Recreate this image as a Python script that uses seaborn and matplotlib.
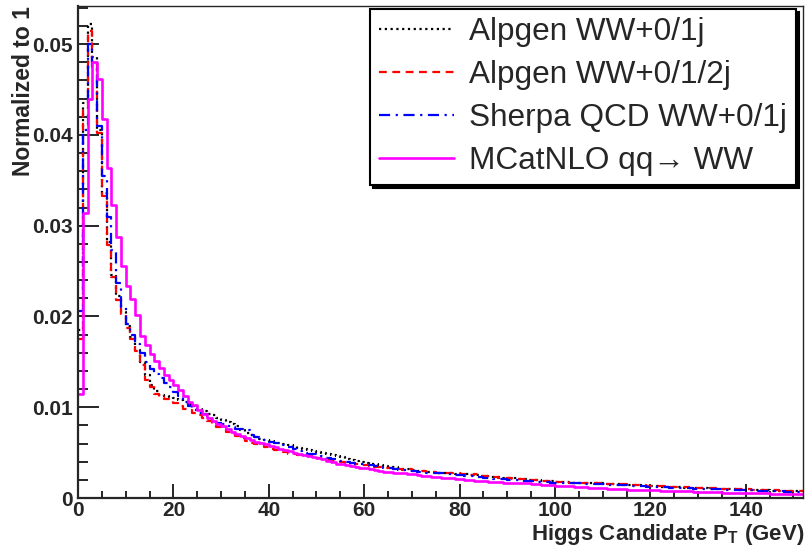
import numpy as np
import pandas as pd
import matplotlib.pyplot as plt
import seaborn as sns
from matplotlib.ticker import MultipleLocator

# 1 GeV bins from 0 to 152 GeV
bin_edges = np.arange(0, 153, 1)
bin_centers = bin_edges[:-1] + 0.5

# normalized bin contents, bins 0..151
alpgen_01j = [
    0.0185, 0.0435, 0.0522, 0.0486, 0.0405, 0.0336, 0.0282, 0.0246, 0.0222, 0.0205,
    0.0190, 0.0177, 0.0163, 0.0150, 0.0135, 0.0125, 0.0118, 0.0114, 0.0112, 0.0111,
    0.0110, 0.0108, 0.0106, 0.0104, 0.0101, 0.0098, 0.0096, 0.0093, 0.0091, 0.0088,
    0.0086, 0.0084, 0.0081, 0.0079, 0.0075, 0.0072, 0.0069, 0.0067, 0.0065, 0.0064,
    0.0063, 0.0062, 0.0061, 0.0060, 0.0058, 0.0057, 0.0055, 0.0054, 0.0053, 0.0052,
    0.0051, 0.0050, 0.0048, 0.0047, 0.0046, 0.0045, 0.0043, 0.0042, 0.0041, 0.0040,
    0.0039, 0.0038, 0.0037, 0.0036, 0.0035, 0.0034, 0.0034, 0.0033, 0.0032, 0.0032,
    0.0031, 0.0030, 0.0030, 0.0029, 0.0029, 0.0028, 0.0028, 0.0027, 0.0027, 0.0026,
    0.0026, 0.0026, 0.0025, 0.0025, 0.0024, 0.0024, 0.0023, 0.0023, 0.0023, 0.0022,
    0.0022, 0.0022, 0.0021, 0.0021, 0.0020, 0.0020, 0.0020, 0.0019, 0.0019, 0.0019,
    0.0018, 0.0018, 0.0018, 0.0017, 0.0017, 0.0017, 0.0016, 0.0016, 0.0016, 0.0016,
    0.0015, 0.0015, 0.0015, 0.0015, 0.0014, 0.0014, 0.0014, 0.0014, 0.0013, 0.0013,
    0.0013, 0.0013, 0.0012, 0.0012, 0.0012, 0.0012, 0.0012, 0.0011, 0.0011, 0.0011,
    0.0011, 0.0011, 0.0010, 0.0010, 0.0010, 0.0010, 0.0010, 0.0010, 0.0009, 0.0009,
    0.0009, 0.0009, 0.0009, 0.0009, 0.0009, 0.0008, 0.0008, 0.0008, 0.0008, 0.0008,
    0.0008, 0.0008,
]

alpgen_012j = [
    0.0175, 0.0430, 0.0515, 0.0480, 0.0402, 0.0333, 0.0279, 0.0243, 0.0218, 0.0203,
    0.0187, 0.0175, 0.0162, 0.0146, 0.0130, 0.0122, 0.0115, 0.0111, 0.0109, 0.0107,
    0.0105, 0.0101, 0.0098, 0.0097, 0.0094, 0.0091, 0.0088, 0.0085, 0.0082, 0.0078,
    0.0076, 0.0073, 0.0071, 0.0068, 0.0066, 0.0063, 0.0061, 0.0060, 0.0059, 0.0056,
    0.0054, 0.0053, 0.0052, 0.0051, 0.0049, 0.0048, 0.0047, 0.0047, 0.0046, 0.0045,
    0.0044, 0.0043, 0.0042, 0.0041, 0.0041, 0.0040, 0.0039, 0.0039, 0.0037, 0.0036,
    0.0036, 0.0035, 0.0034, 0.0034, 0.0033, 0.0033, 0.0032, 0.0032, 0.0031, 0.0032,
    0.0030, 0.0030, 0.0030, 0.0029, 0.0029, 0.0028, 0.0028, 0.0027, 0.0028, 0.0027,
    0.0026, 0.0026, 0.0025, 0.0026, 0.0024, 0.0024, 0.0023, 0.0023, 0.0022, 0.0022,
    0.0022, 0.0021, 0.0021, 0.0021, 0.0020, 0.0020, 0.0020, 0.0019, 0.0019, 0.0019,
    0.0018, 0.0018, 0.0018, 0.0017, 0.0017, 0.0017, 0.0017, 0.0016, 0.0016, 0.0016,
    0.0016, 0.0015, 0.0015, 0.0015, 0.0015, 0.0014, 0.0014, 0.0014, 0.0014, 0.0013,
    0.0013, 0.0013, 0.0013, 0.0012, 0.0012, 0.0012, 0.0012, 0.0012, 0.0011, 0.0011,
    0.0011, 0.0011, 0.0011, 0.0011, 0.0010, 0.0010, 0.0010, 0.0010, 0.0010, 0.0010,
    0.0010, 0.0009, 0.0009, 0.0009, 0.0009, 0.0009, 0.0009, 0.0008, 0.0008, 0.0008,
    0.0008, 0.0008,
]

sherpa_01j = [
    0.0206, 0.0405, 0.0500, 0.0475, 0.0410, 0.0355, 0.0310, 0.0273, 0.0237, 0.0210,
    0.0192, 0.0180, 0.0170, 0.0160, 0.0150, 0.0142, 0.0137, 0.0132, 0.0127, 0.0122,
    0.0117, 0.0112, 0.0106, 0.0101, 0.0097, 0.0094, 0.0092, 0.0090, 0.0086, 0.0083,
    0.0081, 0.0079, 0.0078, 0.0076, 0.0076, 0.0075, 0.0069, 0.0067, 0.0066, 0.0064,
    0.0062, 0.0061, 0.0060, 0.0058, 0.0056, 0.0054, 0.0052, 0.0050, 0.0049, 0.0048,
    0.0047, 0.0046, 0.0044, 0.0043, 0.0042, 0.0041, 0.0040, 0.0039, 0.0038, 0.0037,
    0.0037, 0.0036, 0.0035, 0.0034, 0.0033, 0.0033, 0.0032, 0.0031, 0.0031, 0.0030,
    0.0030, 0.0029, 0.0029, 0.0028, 0.0028, 0.0027, 0.0027, 0.0026, 0.0026, 0.0025,
    0.0025, 0.0024, 0.0024, 0.0023, 0.0023, 0.0022, 0.0022, 0.0021, 0.0021, 0.0021,
    0.0020, 0.0020, 0.0020, 0.0019, 0.0019, 0.0019, 0.0018, 0.0018, 0.0018, 0.0017,
    0.0017, 0.0017, 0.0016, 0.0016, 0.0016, 0.0016, 0.0015, 0.0015, 0.0015, 0.0015,
    0.0015, 0.0014, 0.0014, 0.0014, 0.0014, 0.0013, 0.0013, 0.0013, 0.0013, 0.0012,
    0.0012, 0.0012, 0.0012, 0.0012, 0.0011, 0.0011, 0.0011, 0.0011, 0.0011, 0.0010,
    0.0010, 0.0010, 0.0010, 0.0010, 0.0010, 0.0009, 0.0009, 0.0009, 0.0009, 0.0009,
    0.0009, 0.0009, 0.0008, 0.0008, 0.0008, 0.0008, 0.0008, 0.0008, 0.0007, 0.0007,
    0.0007, 0.0007,
]

mcatnlo_qq = [
    0.0115, 0.0314, 0.0439, 0.0480, 0.0462, 0.0418, 0.0364, 0.0323, 0.0288, 0.0256,
    0.0233, 0.0219, 0.0202, 0.0179, 0.0168, 0.0159, 0.0151, 0.0143, 0.0136, 0.0130,
    0.0125, 0.0119, 0.0112, 0.0106, 0.0102, 0.0097, 0.0093, 0.0088, 0.0085, 0.0082,
    0.0079, 0.0076, 0.0073, 0.0070, 0.0068, 0.0066, 0.0064, 0.0062, 0.0061, 0.0059,
    0.0057, 0.0056, 0.0054, 0.0053, 0.0052, 0.0050, 0.0048, 0.0047, 0.0046, 0.0045,
    0.0044, 0.0043, 0.0041, 0.0040, 0.0038, 0.0037, 0.0036, 0.0035, 0.0034, 0.0033,
    0.0033, 0.0032, 0.0031, 0.0030, 0.0029, 0.0029, 0.0028, 0.0027, 0.0027, 0.0026,
    0.0026, 0.0025, 0.0024, 0.0024, 0.0023, 0.0023, 0.0022, 0.0022, 0.0022, 0.0021,
    0.0021, 0.0020, 0.0020, 0.0019, 0.0019, 0.0019, 0.0018, 0.0018, 0.0018, 0.0017,
    0.0017, 0.0017, 0.0016, 0.0016, 0.0016, 0.0015, 0.0015, 0.0014, 0.0014, 0.0014,
    0.0013, 0.0013, 0.0013, 0.0013, 0.0012, 0.0012, 0.0012, 0.0011, 0.0011, 0.0011,
    0.0011, 0.0010, 0.0010, 0.0010, 0.0010, 0.0009, 0.0009, 0.0009, 0.0009, 0.0009,
    0.00085, 0.00085, 0.00082, 0.0008, 0.0008, 0.00077, 0.00075, 0.00074, 0.00072, 0.0007,
    0.00068, 0.00067, 0.00065, 0.00064, 0.00062, 0.0006, 0.00059, 0.00058, 0.00056, 0.00055,
    0.00054, 0.00053, 0.00052, 0.00051, 0.0005, 0.00049, 0.00048, 0.00047, 0.00046, 0.00046,
    0.00045, 0.00044,
]

sample_labels = ["Alpgen WW+0/1j", "Alpgen WW+0/1/2j", "Sherpa QCD WW+0/1j", "MCatNLO qq\u2192 WW"]
sample_values = [alpgen_01j, alpgen_012j, sherpa_01j, mcatnlo_qq]

# ROOT-like line styles: dotted, dashed, dash-dot, solid
line_colors = ["black", "#ff0000", "#0000ff", "#ff00ff"]
line_styles = [(0, (1.0, 1.6)), (0, (3.5, 2.5)), (0, (5, 2.5, 1, 2.5)), "-"]
line_widths = [1.6, 1.6, 1.6, 1.9]

sns.set_style("ticks")
plt.rcParams["font.family"] = ["Liberation Sans", "DejaVu Sans"]
plt.rcParams["mathtext.fontset"] = "custom"
plt.rcParams["mathtext.rm"] = "Liberation Sans:bold"
plt.rcParams["mathtext.default"] = "rm"

fig = plt.figure(figsize=(8.06, 5.58), dpi=100)
ax = fig.add_axes([78 / 806, 1 - 498 / 558, 725 / 806, 492 / 558])

for vals, lab, col, ls, lw in zip(sample_values, sample_labels, line_colors, line_styles, line_widths):
    hist_df = pd.DataFrame({"pt": bin_centers, "w": vals})
    sns.histplot(data=hist_df, x="pt", weights="w", binwidth=1, binrange=(0, 152),
                 element="step", fill=False,
                 color=col, linestyle=ls, linewidth=lw, label=lab, ax=ax)

ax.set_xlim(0, 152)
ax.set_ylim(0, 0.0542)

ax.xaxis.set_major_locator(MultipleLocator(20))
ax.xaxis.set_minor_locator(MultipleLocator(5))
ax.yaxis.set_minor_locator(MultipleLocator(0.002))
ax.set_yticks([0, 0.01, 0.02, 0.03, 0.04, 0.05])
ax.set_yticklabels(["0", "0.01", "0.02", "0.03", "0.04", "0.05"])

ax.tick_params(axis="y", which="major", direction="in", length=15, width=1.4, pad=3.5)
ax.tick_params(axis="y", which="minor", direction="in", length=7.5, width=1.4)
ax.tick_params(axis="x", which="major", direction="in", length=10, width=1.4, pad=2.0)
ax.tick_params(axis="x", which="minor", direction="in", length=5, width=1.4)
ax.tick_params(axis="both", labelsize=15)
for t in ax.get_xticklabels() + ax.get_yticklabels():
    t.set_fontweight("bold")

for side in ["left", "bottom"]:
    ax.spines[side].set_linewidth(1.6)
for side in ["top", "right"]:
    ax.spines[side].set_linewidth(1.0)
    ax.spines[side].set_visible(True)

ax.set_xlabel("")
ax.set_ylabel("")
fig.text(804 / 806, 1 - 540 / 558, r"Higgs Candidate P$_{T}$ (GeV)", ha="right", va="baseline",
         fontsize=16, fontweight="bold")
fig.text(24 / 806, 1 - 6 / 558, "Normalized to 1", rotation=90, ha="center", va="top",
         fontsize=16.5, fontweight="bold")

leg = ax.legend(loc="upper right", bbox_to_anchor=(0.990, 0.994), borderaxespad=0,
                fontsize=22.7, frameon=True, fancybox=False, edgecolor="black",
                shadow={"color": "black", "alpha": 1.0},
                handlelength=2.38, handletextpad=0.5, borderpad=0.27, labelspacing=0.41)
leg.get_frame().set_linewidth(1.5)
leg.get_frame().set_facecolor("white")
leg.get_frame().set_alpha(1.0)

fig.savefig("out.png", dpi=100)
